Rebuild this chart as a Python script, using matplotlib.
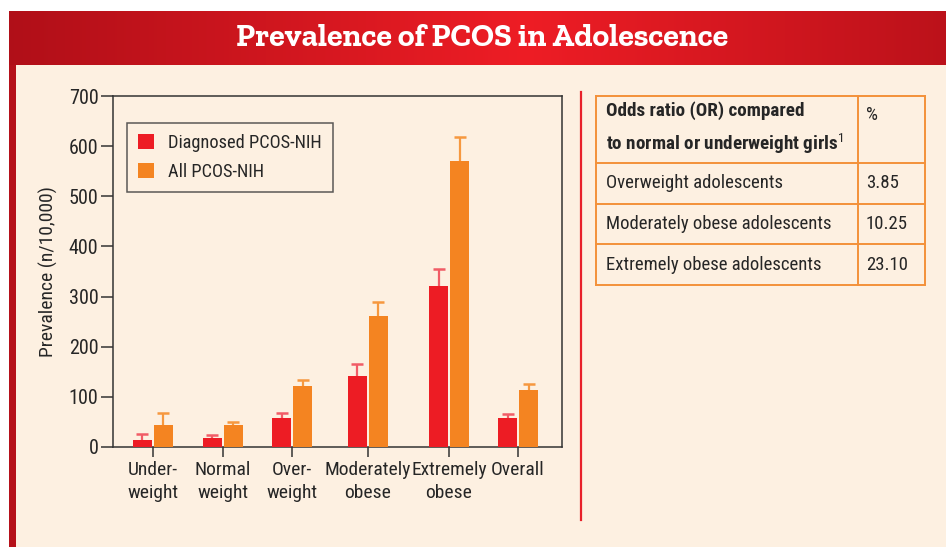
import numpy as np
import matplotlib
matplotlib.use('Agg')
import matplotlib.pyplot as plt
from matplotlib.patches import Rectangle

# ---- data ----
categories = ["Under-\nweight", "Normal\nweight", "Over-\nweight",
              "Moderately\nobese", "Extremely\nobese", "Overall"]
diagnosed = [14, 18, 58, 141, 321, 58]
diagnosed_err = [12, 5, 10, 24, 34, 7]
all_pcos = [44, 44, 122, 262, 570, 114]
all_pcos_err = [23, 5, 12, 27, 48, 12]

table_header = ["Odds ratio (OR) compared\nto normal or underweight girls$^{1}$", "%"]
table_groups = ["Overweight adolescents", "Moderately obese adolescents",
                "Extremely obese adolescents"]
table_values = ["3.85", "10.25", "23.10"]

title = "Prevalence of PCOS in Adolescence"

# ---- style ----
W, H = 946, 547
CREAM = '#FDF0E1'
RED = '#ED1C24'
ORANGE = '#F48421'
TXT = '#262626'
plt.rcParams['font.family'] = ['Roboto Condensed', 'DejaVu Sans']
plt.rcParams['mathtext.fontset'] = 'custom'
plt.rcParams['mathtext.rm'] = 'Roboto Condensed'
plt.rcParams['mathtext.bf'] = 'Roboto Condensed:bold'

fig = plt.figure(figsize=(W / 100, H / 100), dpi=100)
fig.patch.set_facecolor('white')

# background layer in pixel coords
bg = fig.add_axes([0, 0, 1, 1])
bg.add_patch(Rectangle((9, 11), W - 9, H - 11, color='#B5111A', lw=0))
bg.add_patch(Rectangle((16, 65), W - 16, H - 65, color=CREAM, lw=0))

# banner gradient: dark edges, bright center
xs = np.linspace(9, W, 400)
t = np.clip(1 - np.abs(xs - 525) / 520, 0, 1)
c0 = np.array(matplotlib.colors.to_rgb('#B00F18'))
c1 = np.array(matplotlib.colors.to_rgb('#EE1D25'))
grad = c0[None, :] * (1 - t[:, None]) + c1[None, :] * t[:, None]
bg.imshow(grad[None, :, :], extent=(9, W, 65, 11), aspect='auto', zorder=2)
bg.set_xlim(0, W)
bg.set_ylim(H, 0)
bg.axis('off')
bg.text(482, 39, title, color='white', fontsize=23, fontweight='bold',
        family='Zilla Slab', ha='center', va='center', zorder=3)

# separator line
bg.plot([580.5, 580.5], [92, 520], color='#E8202A', lw=1.6, zorder=3)

# table
TBL = '#F3913A'
tx0, tx1, tcol = 596, 925, 858
rows_y = [96, 163, 204, 244, 285]
for y in rows_y:
    bg.plot([tx0, tx1], [y, y], color=TBL, lw=1.4, zorder=3)
for x in [tx0, tcol, tx1]:
    bg.plot([x, x], [rows_y[0], rows_y[-1]], color=TBL, lw=1.4, zorder=3)
bg.text(606, 129, table_header[0], fontsize=13.8, fontweight='bold', color=TXT,
        va='center', ha='left', linespacing=1.6, zorder=3)
bg.text(866, 115, table_header[1], fontsize=13.5, color=TXT,
        va='center', ha='left', zorder=3)
for i, (g, v) in enumerate(zip(table_groups, table_values)):
    yc = (rows_y[i + 1] + rows_y[i + 2]) / 2
    bg.text(606, yc, g, fontsize=13.5, color=TXT, va='center', ha='left', zorder=3)
    bg.text(866, yc, v, fontsize=13.5, color=TXT, va='center', ha='left', zorder=3)

# ---- chart ----
ax = fig.add_axes([113 / W, (H - 447) / H, (562 - 113) / W, (447 - 96) / H])
ax.set_facecolor('none')

pos = np.array([39.7, 109.7, 179, 254.7, 336, 405])
bw = 19
n = len(categories)
ax.bar(pos - 10.5, diagnosed, width=bw, color=RED, label='Diagnosed PCOS-NIH', zorder=3)
ax.bar(pos + 10.5, all_pcos, width=bw, color=ORANGE, label='All PCOS-NIH', zorder=3)
for off, vals, errs, ecol in [(-10.5, diagnosed, diagnosed_err, '#F15C66'),
                              (10.5, all_pcos, all_pcos_err, '#F6983F')]:
    eb = ax.errorbar(pos + off, vals, yerr=[np.zeros(n), errs], fmt='none',
                     ecolor=ecol, elinewidth=1.6, capsize=4.5, capthick=1.8, zorder=2)
    # only the upper cap is shown
    eb[1][0].set_visible(False)

ax.set_xlim(0, 449)
ax.set_ylim(0, 700)
ax.set_yticks(range(0, 701, 100))
ax.set_xticks(pos)
ax.set_xticklabels(categories, fontsize=14, color=TXT, linespacing=1.35)
ax.tick_params(axis='y', length=8.5, width=1.1, color='#333333', labelsize=14.5,
               labelcolor=TXT, pad=2)
ax.tick_params(axis='x', length=7, width=1.1, color='#333333', pad=3)
for s in ax.spines.values():
    s.set_color('#333333')
    s.set_linewidth(1.1)
ax.set_ylabel("Prevalence (n/10,000)", fontsize=14, color=TXT, labelpad=8)

leg = ax.legend(loc='upper left', bbox_to_anchor=(0.031, 0.923), borderaxespad=0,
                fontsize=13.2, frameon=True, fancybox=False, handlelength=0.9,
                handleheight=0.9, handletextpad=0.75, labelspacing=0.6,
                borderpad=0.6, labelcolor=TXT)
leg.get_frame().set_edgecolor('#333333')
leg.get_frame().set_linewidth(1.1)
leg.get_frame().set_facecolor('none')

fig.savefig('out.png', dpi=100)
